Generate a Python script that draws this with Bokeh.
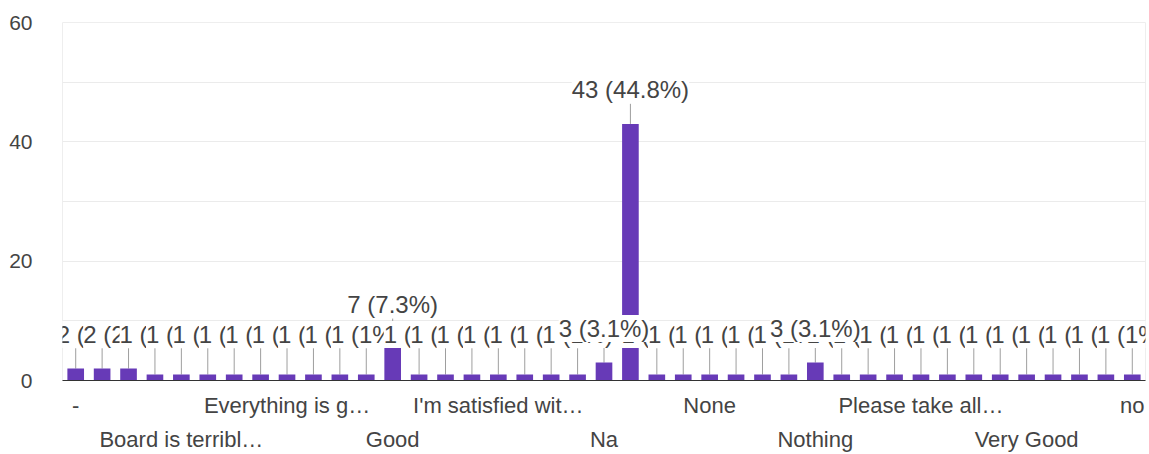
from bokeh.plotting import figure
from bokeh.models import (ColumnDataSource, Range1d, FixedTicker, LinearAxis,
                          LabelSet)
from bokeh.core.properties import value
from bokeh.embed import file_html
from bokeh.resources import INLINE

# ---- data ----
categories = [
    "-", "All good", "Average", "Better", "Board is terribl…", "Cool",
    "Decent", "Easy to use", "Everything is g…", "Excellent", "Fine", "Gd",
    "Good", "Good job", "Great", "Helpful", "I'm satisfied wit…", "It's ok",
    "Keep it up", "Median", "Na", "Nil", "No", "No comments", "None",
    "Not bad", "Not really", "Nothin", "Nothing", "Nothing much",
    "Nothing to say", "Ok", "Please take all…", "Satisfactory", "Thanks",
    "Useful", "Very Good", "Very helpful", "good", "nil", "no",
]
counts = [2, 2, 2, 1, 1, 1, 1, 1, 1, 1, 1, 1,
          7, 1, 1, 1, 1, 1, 1, 1,
          3, 43, 1, 1, 1, 1, 1, 1,
          3, 1, 1, 1, 1, 1, 1, 1, 1, 1, 1, 1, 1]
row1_ticks = [0, 8, 16, 24, 32, 40]
row2_ticks = [4, 12, 20, 28, 36]
y_ticks = [0, 20, 40, 60]
y_minor = [10, 30, 50]

BAR = "#673ab7"
TXT = "#444444"
FONT = "Liberation Sans"

total = sum(counts)


def fmt_pct(v):
    p = round(v / total * 100, 1)
    s = ("%.1f" % p).rstrip("0").rstrip(".")
    return "%d (%s%%)" % (v, s)


xs = list(range(len(categories)))
label_y = [max(v, 2) + 5.7 for v in counts]
lead_top = [ly - 2.3 for ly in label_y]
labels = [fmt_pct(v) for v in counts]

src = ColumnDataSource(dict(x=xs, top=counts, ly=label_y, lt=lead_top))


def sub(cond):
    idx = [i for i, v in enumerate(counts) if cond(v)]
    return ColumnDataSource(dict(x=[xs[i] for i in idx],
                                 ly=[label_y[i] for i in idx],
                                 lbl=[labels[i] for i in idx]))


src_small = sub(lambda v: v < 3)
src_big = sub(lambda v: v >= 3)

p = figure(width=1149, height=454, output_backend="svg", toolbar_location=None,
           x_range=Range1d(-0.5, len(categories) - 0.5), y_range=Range1d(0, 60),
           min_border_left=62, min_border_top=22, min_border_right=4,
           min_border_bottom=74)
p.outline_line_color = "#eeeeee"
p.background_fill_color = "white"
p.border_fill_color = "white"

p.segment(x0="x", y0="top", x1="x", y1="lt", source=src,
          line_color="#9e9e9e", line_width=1)
p.vbar(x="x", top="top", width=0.63, source=src, fill_color=BAR,
       line_color=None)

for s in (src_small, src_big):
    lab = LabelSet(x="x", y="ly", text="lbl", source=s, text_align="center",
                   text_baseline="middle", text_font=value(FONT),
                   text_font_size=value("24px"), text_color=value(TXT),
                   background_fill_color=value("white"))
    p.add_layout(lab)

# y axis
p.yaxis.ticker = FixedTicker(ticks=y_ticks, minor_ticks=y_minor)
p.yaxis.axis_line_color = None
p.yaxis.major_tick_line_color = None
p.yaxis.minor_tick_line_color = None
p.yaxis.major_label_standoff = 24
p.yaxis.major_label_text_font = FONT
p.yaxis.major_label_text_font_size = "21px"
p.yaxis.major_label_text_color = TXT
p.ygrid.grid_line_color = "#ebebeb"
p.ygrid.minor_grid_line_color = "#ebebeb"
p.xgrid.grid_line_color = None

# x axis, row 1
ax1 = p.xaxis[0]
ax1.ticker = FixedTicker(ticks=row1_ticks)
ax1.major_label_overrides = {float(i): categories[i] for i in row1_ticks}
ax1.axis_line_color = "#333333"
ax1.major_tick_line_color = None
ax1.minor_tick_line_color = None
ax1.major_label_standoff = 6
ax1.major_label_text_font = FONT
ax1.major_label_text_font_size = "22px"
ax1.major_label_text_color = TXT

# x axis, row 2
ax2 = LinearAxis(ticker=FixedTicker(ticks=row2_ticks),
                 major_label_overrides={float(i): categories[i] for i in row2_ticks})
ax2.axis_line_color = None
ax2.major_tick_line_color = None
ax2.minor_tick_line_color = None
ax2.major_label_standoff = 0
ax2.major_label_text_font = FONT
ax2.major_label_text_font_size = "22px"
ax2.major_label_text_color = TXT
p.add_layout(ax2, "below")

open("out.html", "w").write(file_html(p, INLINE))
